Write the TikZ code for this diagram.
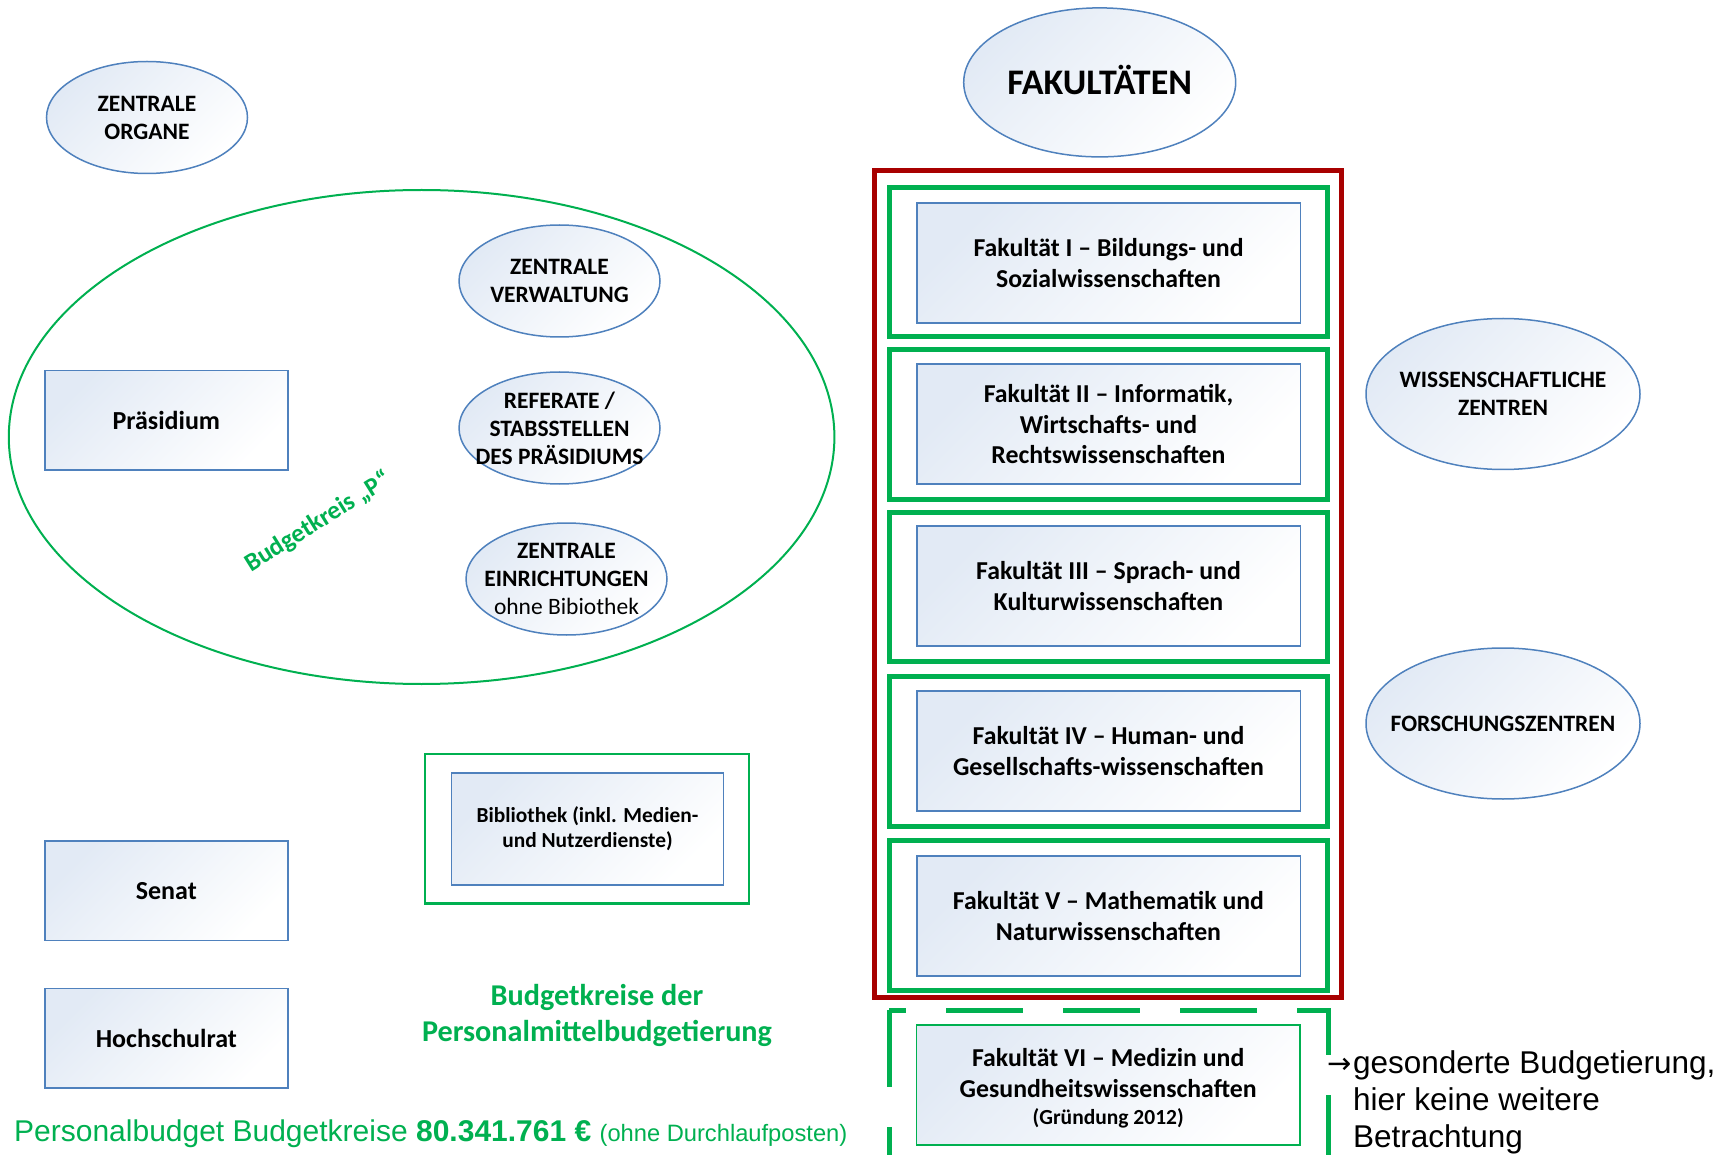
\documentclass[tikz,border=0pt]{standalone}
\usepackage{fontspec}
\setmainfont{Carlito}
\newfontfamily\arialf{Liberation Sans}
\newfontfamily\arrowf{DejaVu Sans}
\usetikzlibrary{shapes.geometric}
\definecolor{obl}{RGB}{79,129,189}
\definecolor{ogr}{RGB}{0,176,80}
\definecolor{ored}{RGB}{168,0,0}
\definecolor{gradc}{RGB}{226,234,245}
\begin{document}
\begin{tikzpicture}[x=1pt,y=-1pt,
  fillgrad/.style={top color=gradc, bottom color=white, shading angle=45},
  oval/.style={ellipse, draw=obl, line width=1.5pt, fillgrad, inner sep=0pt},
  elltext/.style={align=center, inner sep=0pt, font=\fontsize{23.5}{28}\selectfont\bfseries},
  orgbox/.style={rectangle, draw=obl, line width=1.6pt, fillgrad, align=center, inner sep=0pt,
     minimum width=243pt, minimum height=99.7pt, font=\fontsize{26}{31}\selectfont\bfseries},
  fakbox/.style={rectangle, draw=obl, line width=1.6pt, fillgrad, align=center, inner sep=0pt,
     minimum width=383.6pt, minimum height=120pt, font=\fontsize{25.8}{30.7}\selectfont\bfseries},
  greenframe/.style={rectangle, draw=ogr, line width=5pt, inner sep=0pt,
     minimum width=438.5pt, minimum height=149.5pt},
  dashsix/.style={draw=ogr, line width=5pt, dash pattern=on 77pt off 40pt},
  greentext/.style={text=ogr, inner sep=0pt, font=\bfseries},
  notetext/.style={anchor=base west, inner sep=0pt, font=\arialf\fontsize{31.5}{36}\selectfont}
]
\useasboundingbox (0,0) rectangle (1733,1155);

% ---------- left side ----------
\node[oval, minimum width=201pt, minimum height=112pt] (zo) at (147,117.5) {};
\node[elltext] (zotext) at (zo.center) {ZENTRALE\\ORGANE};

\node[ellipse, draw=ogr, line width=2pt, inner sep=0pt, minimum width=825.6pt, minimum height=494pt] (bkp) at (421.6,437) {};

\node[oval, minimum width=201pt, minimum height=112pt] (zv) at (559.5,281) {};
\node[elltext] (zvtext) at (zv.center) {ZENTRALE\\VERWALTUNG};

\node[oval, minimum width=201pt, minimum height=112pt] (ref) at (559.5,428) {};
\node[elltext] (reftext) at (ref.center) {REFERATE /\\STABSSTELLEN\\DES PRÄSIDIUMS};

\node[oval, minimum width=201pt, minimum height=112pt] (ze) at (566.5,579) {};
\node[elltext] (zetext) at (ze.center) {ZENTRALE\\EINRICHTUNGEN\\{\mdseries ohne Bibiothek}};

\node[orgbox] (praes) at (166.3,420.2) {Präsidium};
\node[orgbox] (senat) at (166.3,890.7) {Senat};
\node[orgbox] (hsr) at (166.3,1038.2) {Hochschulrat};

\node[greentext, rotate=32, font=\fontsize{25.5}{30}\selectfont\bfseries] (bkplabel) at (318,522) {Budgetkreis „P“};

\node[rectangle, draw=ogr, line width=2.5pt, inner sep=0pt, minimum width=324pt, minimum height=149.5pt] (bibframe) at (587,828.7) {};
\node[rectangle, draw=obl, line width=1.6pt, fillgrad, align=center, inner sep=0pt,
      minimum width=272pt, minimum height=111.7pt, font=\fontsize{21.4}{25.5}\selectfont\bfseries] (bib) at (587.5,828.9)
      {Bibliothek (inkl. Medien-\\und Nutzerdienste)};

\node[greentext, align=center, font=\fontsize{30.2}{36}\selectfont\bfseries] (bkpm) at (597,1015) {Budgetkreise der\\Personalmittelbudgetierung};

\node[anchor=base west, inner sep=0pt, text=ogr, font=\arialf\fontsize{30}{34}\selectfont] (foot) at (14,1141.7)
  {Personalbudget Budgetkreise \textbf{80.341.761 €} {\fontsize{23.7}{26}\selectfont(ohne Durchlaufposten)}};

% ---------- faculties ----------
\node[oval, minimum width=272pt, minimum height=149pt] (fak) at (1099.7,82.4) {};
\node[elltext, font=\fontsize{36}{40}\selectfont\bfseries] (faktext) at (1099.7,80) {FAKULTÄTEN};

\node[rectangle, draw=ored, line width=5pt, inner sep=0pt, minimum width=467.5pt, minimum height=826.5pt] (red) at (1107.75,583.75) {};

\node[greenframe] (g1) at (1108.25,262) {};
\node[greenframe] (g2) at (1108.25,424.25) {};
\node[greenframe] (g3) at (1108.25,586.75) {};
\node[greenframe] (g4) at (1108.25,751.6) {};
\node[greenframe] (g5) at (1108.25,915.65) {};

\node[fakbox] (f1) at (1108.5,263) {Fakultät I – Bildungs- und\\Sozialwissenschaften};
\node[fakbox] (f2) at (1108.5,424.2) {Fakultät II – Informatik,\\Wirtschafts- und\\Rechtswissenschaften};
\node[fakbox] (f3) at (1108.5,585.9) {Fakultät III – Sprach- und\\Kulturwissenschaften};
\node[fakbox] (f4) at (1108.5,751.2) {Fakultät IV – Human- und\\Gesellschafts-wissenschaften};
\node[fakbox] (f5) at (1108.5,915.9) {Fakultät V – Mathematik und\\Naturwissenschaften};

\coordinate (d6tl) at (889,1010);
\coordinate (d6tr) at (1328.6,1010);
\coordinate (d6bl) at (889,1165);
\coordinate (d6br) at (1328.6,1165);
\draw[dashsix, dash phase=60pt] (d6tl) -- (d6tr) -- (d6br);
\draw[dashsix] (d6tl) -- (d6bl);

\node[rectangle, draw=ogr, line width=1.5pt, fillgrad, inner sep=0pt, minimum width=383.2pt, minimum height=120.3pt] (f6) at (1108.2,1084.9) {};
\node[align=center, inner sep=0pt, font=\fontsize{25.8}{30.7}\selectfont\bfseries] (f6text) at (1108.2,1088.5)
  {Fakultät VI – Medizin und\\Gesundheitswissenschaften\\[-3pt]{\fontsize{21.5}{25}\selectfont(Gründung 2012)}};

\node[notetext] (note1) at (1352.8,1073) {\llap{{\arrowf\fontsize{29}{34}\selectfont →}\kern1pt}gesonderte Budgetierung,};
\node[notetext] (note2) at (1352.8,1110) {hier keine weitere};
\node[notetext] (note3) at (1352.8,1147) {Betrachtung};

\node[oval, minimum width=274pt, minimum height=151pt] (wz) at (1503,394) {};
\node[elltext] (wztext) at (wz.center) {WISSENSCHAFTLICHE\\ZENTREN};
\node[oval, minimum width=274pt, minimum height=151pt] (fz) at (1503,723.5) {};
\node[elltext] (fztext) at (fz.center) {FORSCHUNGSZENTREN};
\end{tikzpicture}
\end{document}
